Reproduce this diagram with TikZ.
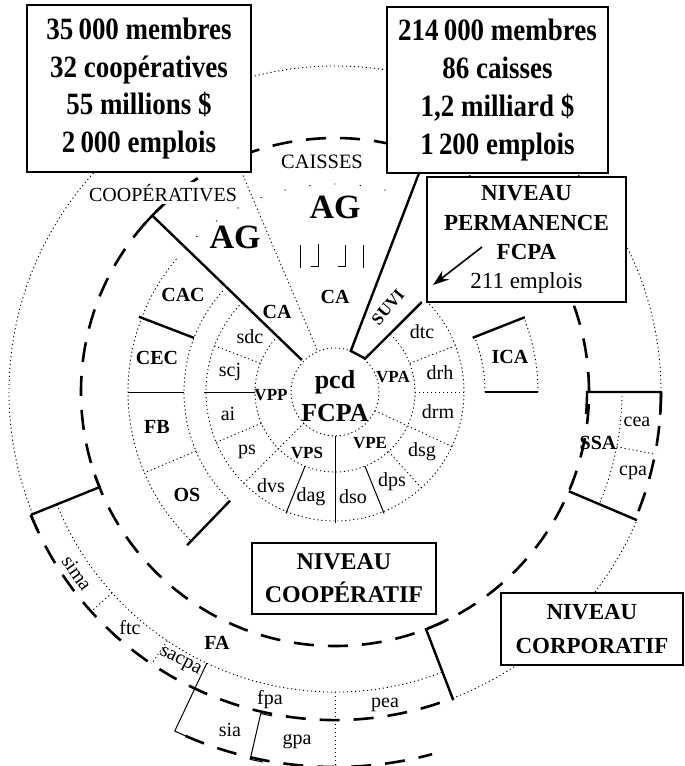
\documentclass[tikz,border=0pt]{standalone}
\usepackage{fontspec}
\setmainfont{Liberation Serif}
\newfontfamily\condfont{Liberation Serif}[FakeStretch=0.87]
\usetikzlibrary{arrows.meta}
\begin{document}
\begin{tikzpicture}[x=0.5pt,y=0.5pt,
  dotl/.style={line width=0.45pt, dash pattern=on 0.6pt off 1.4pt},
  sparse/.style={line width=0.45pt, dash pattern=on 0.6pt off 12pt},
  thinl/.style={line width=0.5pt},
  boldl/.style={line width=1.2pt},
  bigdash/.style={line width=1.3pt, dash pattern=on 10pt off 7pt},
  lab/.style={font=\fontsize{10}{12}\selectfont, inner sep=0.5pt},
  blab/.style={font=\fontsize{10}{12}\selectfont\bfseries, inner sep=0.5pt},
  vlab/.style={font=\fontsize{8.5}{10}\selectfont\bfseries, inner sep=0.5pt},
  bigbox/.style={draw, line width=0.8pt, fill=white, align=center, inner sep=0pt,
     font=\condfont\bfseries\fontsize{15.5}{18.9}\selectfont},
  nivbox/.style={draw, line width=0.7pt, fill=white, align=center, inner sep=0pt}
]
\useasboundingbox (0,0) rectangle (685,-766);
\clip (0,0) rectangle (685,-766);

\begin{scope}[shift={(335,-392)}]
  % inner circle and rings
  \draw[dotl] (0,0) circle[radius=44];
  \draw[dotl] (136:80) arc[start angle=136, end angle=407, radius=80];
  \draw[dotl] (136:129) arc[start angle=136, end angle=406, radius=129];
  % ring 3 left
  \draw[dotl] (138:151) arc[start angle=138, end angle=226, radius=151];
  \draw[dotl] (140:207) arc[start angle=140, end angle=226, radius=207];
  \draw[sparse] (69:208) arc[start angle=69, end angle=136, radius=208];
  % ICA
  \draw[dotl] (0:150) arc[start angle=0, end angle=21.5, radius=150];
  \draw[dotl] (0:203) arc[start angle=0, end angle=21.5, radius=203];
  \draw[boldl] (0:150) -- (0:203);
  \draw[boldl] (21.5:148) -- (21.5:204);
  % main radial lines
  \draw[boldl] (136:46) -- (136:254);
  \draw[boldl] (133:254) arc[start angle=133, end angle=139, radius=254];
  \draw[dotl] (113:46) -- (113:240);
  \draw[boldl] (69:235) -- (69:44) -- (48:45) -- (46:125);
  % rings 1-2 dividers
  \foreach \a in {225,335} \draw[dotl] (\a:44) -- (\a:129);
  \draw[thinl] (270:44) -- (270:131);
  \foreach \a in {159,203,312,0,21} \draw[dotl] (\a:80) -- (\a:129);
  \foreach \a in {180,248,292} \draw[thinl] (\a:80) -- (\a:131);
  % ring 3 dividers
  \draw[boldl] (159:151) -- (159:210);
  \draw[thinl] (180:151) -- (180:207);
  \draw[dotl] (203:151) -- (203:207);
  \draw[boldl] (226:151) -- (226:213);
  % big dashed circle
  \draw[bigdash] (0,0) circle[radius=254];
  % outer circle
  \draw[dotl] (0:326) arc[start angle=0, end angle=202, radius=326];
  \draw[bigdash] (202:328) arc[start angle=202, end angle=291, radius=328];
  \draw[dotl] (291:328) arc[start angle=291, end angle=337, radius=328];
  \draw[bigdash] (0:326) arc[start angle=0, end angle=-23, radius=326];
  % FA bracket
  \draw[boldl] (202:254) -- (202:328);
  \draw[boldl] (202:328) arc[start angle=202, end angle=205, radius=328];
  \draw[boldl] (202:254) arc[start angle=202, end angle=199, radius=254];
  \draw[boldl] (296.5:254) arc[start angle=296.5, end angle=291, radius=254] -- (291:330);
  % SSA bracket
  \draw[boldl] (-5:252) arc[start angle=-5, end angle=0, radius=252] -- (0:326)
     arc[start angle=0, end angle=-4, radius=326];
  \draw[boldl] (337:254) -- (337:328);
  \draw[dotl] (0:287) arc[start angle=0, end angle=-23, radius=287];
  \draw[dotl] (349:287) -- (349:327);
  % FA subdivisions
  \draw[dotl] (202:300) arc[start angle=202, end angle=291, radius=300];
  \draw[dotl] (222:300) -- (222:328);
  \draw[dotl] (236:300) -- (236:328);
  \draw[thinl] (244.7:300) -- (244.7:375) arc[start angle=244.7, end angle=246.5, radius=375];
  \draw[dotl] (270:300) -- (270:385);
  \draw[bigdash] (246.5:375) arc[start angle=246.5, end angle=285, radius=375];
  \draw[thinl] (259:330) arc[start angle=259, end angle=257, radius=330] -- (257:377)
     arc[start angle=257, end angle=259, radius=377];
\end{scope}

% caisses ticks
\draw[thinl] (300,-245) -- (300,-268);
\draw[thinl] (318,-244) -- (318,-266) -- (311,-266);
\draw[thinl] (345,-245) -- (345,-266) -- (338,-266);
\draw[thinl] (363,-245) -- (363,-268);

% centre
\node[font=\fontsize{13}{16.5}\selectfont\bfseries, align=center, inner sep=0pt] (pcd) at (335,-396) {pcd\\FCPA};
% ring 1
\node[vlab] (vpp) at (271,-395) {VPP};
\node[vlab] (vpa) at (393,-377) {VPA};
\node[vlab] (vps) at (307,-453) {VPS};
\node[vlab] (vpe) at (370,-443) {VPE};
% ring 2
\node[lab] (sdc) at (250,-337) {sdc};
\node[lab] (scj) at (230,-372) {scj};
\node[lab] (ai) at (228,-414) {ai};
\node[lab] (ps) at (247,-452) {ps};
\node[lab] (dvs) at (271,-486) {dvs};
\node[lab] (dag) at (311,-497) {dag};
\node[lab] (dso) at (353,-497) {dso};
\node[lab] (dps) at (392,-482) {dps};
\node[lab] (dsg) at (422,-452) {dsg};
\node[lab] (drm) at (438,-412) {drm};
\node[lab] (drh) at (440,-373) {drh};
\node[lab] (dtc) at (422,-332) {dtc};
% ring 3
\node[blab] (cac) at (183,-295) {CAC};
\node[blab] (cec) at (157,-358) {CEC};
\node[blab] (fb) at (157,-427) {FB};
\node[blab] (os) at (187,-495) {OS};
\node[blab] (ica) at (510,-357) {ICA};
\node[blab] (ca1) at (277,-312) {CA};
\node[blab] (ca2) at (335,-297) {CA};
\node[font=\fontsize{17}{20}\selectfont\bfseries, inner sep=0pt] (ag1) at (235,-237) {AG};
\node[font=\fontsize{17}{20}\selectfont\bfseries, inner sep=0pt] (ag2) at (335,-207) {AG};
\node[lab, font=\fontsize{10.2}{12}\selectfont] (caisses) at (322,-162) {CAISSES};
\node[lab, font=\fontsize{10}{12}\selectfont, fill=white, inner sep=1pt] (coops) at (163,-193) {COOPÉRATIVES};
\node[vlab, rotate=50] (suvi) at (388,-307) {SUVI};
% outer labels
\node[blab] (ssa) at (598,-443) {SSA};
\node[lab] (cea) at (637,-422) {cea};
\node[lab] (cpa) at (633,-473) {cpa};
\node[blab] (fa) at (217,-643) {FA};
\node[lab, rotate=-55] (sima) at (77,-573) {sima};
\node[lab] (ftc) at (130,-628) {ftc};
\node[lab, rotate=-27] (sacpa) at (180,-662) {sacpa};
\node[lab] (fpa) at (270,-700) {fpa};
\node[lab] (pea) at (385,-705) {pea};
\node[lab] (sia) at (230,-730) {sia};
\node[lab] (gpa) at (297,-742) {gpa};

% boxes
\node[bigbox, minimum width=112pt, minimum height=83.5pt] (box1) at (139,-88.5)
  {35\,000 membres\\32 coopératives\\55 millions \$\\2\,000 emplois};
\node[bigbox, minimum width=110.5pt, minimum height=83pt] (box2) at (497.5,-90)
  {214\,000 membres\\86 caisses\\1,2 milliard \$\\1\,200 emplois};
\node[nivbox, minimum width=99.5pt, minimum height=62.5pt,
  font=\fontsize{11.5}{14.6}\selectfont] (perm) at (526.5,-239.5)
  {\textbf{NIVEAU}\\\textbf{PERMANENCE}\\\textbf{FCPA}\\211 emplois};
\node[nivbox, minimum width=92pt, minimum height=35.5pt,
  font=\fontsize{12}{16.5}\selectfont\bfseries] (coop) at (344,-578.5)
  {NIVEAU\\COOPÉRATIF};
\node[nivbox, minimum width=91pt, minimum height=36pt,
  font=\fontsize{11.5}{17}\selectfont\bfseries] (corp) at (592,-629)
  {NIVEAU\\CORPORATIF};
\coordinate (arrS) at (482,-247);
\coordinate (arrE) at (433,-285);
\draw[line width=0.8pt, -{Stealth[length=8pt,width=5.5pt]}] (arrS) -- (arrE);
\end{tikzpicture}
\end{document}
